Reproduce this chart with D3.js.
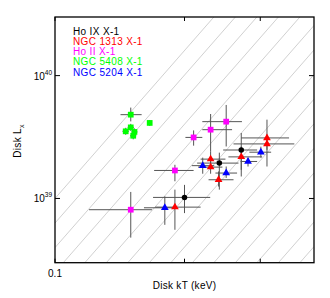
<!DOCTYPE html>
<html>
<head>
<meta charset="utf-8">
<script src="https://cdn.jsdelivr.net/npm/d3@7"></script>
<style>
body { margin: 0; background: #fff; }
svg text { font-family: "Liberation Sans", Arial, sans-serif; }
</style>
</head>
<body>
<div id="plot"></div>
<script>
var W = 330, H = 298;
var left = 55, right = 314, top_ = 17, bottom = 262.7;

// kT in keV, L in units of 1e39 erg/s ; [lo, hi] ranges for error bars
var names = ['Ho IX X-1', 'NGC 1313 X-1', 'Ho II X-1', 'NGC 5408 X-1', 'NGC 5204 X-1'];
var colors = ['#000000', '#ff0000', '#ff00ff', '#00ff00', '#0000ff'];
var shapes = ['circle', 'triangle', 'square', 'square', 'triangle'];

var ho9_kT   = [0.200, 0.241, 0.271];
var ho9_kTlo = [0.169, 0.214, 0.246];
var ho9_kThi = [0.2295, 0.267, 0.295];
var ho9_L    = [1.02, 1.94, 2.48];
var ho9_Llo  = [0.76, 1.18, 1.71];
var ho9_Lhi  = [1.29, 2.36, 3.41];

var n1313_kT   = [0.190, 0.230, 0.230, 0.240, 0.271, 0.311, 0.311];
var n1313_kTlo = [0.171, 0.218, 0.215, 0.2275, 0.253, 0.271, 0.260];
var n1313_kThi = [0.218, 0.249, 0.245, 0.260, 0.303, 0.350, 0.360];
var n1313_L    = [0.85, 2.09, 1.80, 1.42, 2.18, 3.11, 2.78];
var n1313_Llo  = [0.556, 1.85, 1.59, 1.25, 1.51, 2.49, 1.82];
var n1313_Lhi  = [1.18, 2.40, 2.03, 1.66, 2.65, 4.38, 3.30];

var ho2_kT   = [0.150, 0.190, 0.210, 0.230, 0.250];
var ho2_kTlo = [0.120, 0.170, 0.201, 0.220, 0.220];
var ho2_kThi = [0.168, 0.210, 0.220, 0.258, 0.272];
var ho2_L    = [0.81, 1.69, 3.14, 3.63, 4.22];
var ho2_Llo  = [0.48, 1.38, 2.69, 2.40, 2.65];
var ho2_Lhi  = [1.13, 1.88, 3.58, 4.87, 5.77];

var n5408_kT   = [0.150, 0.166, 0.150, 0.146, 0.153, 0.152];
var n5408_kTlo = [0.142, 0.1645, 0.1475, 0.1435, 0.1505, 0.1495];
var n5408_kThi = [0.159, 0.1675, 0.1525, 0.1485, 0.1555, 0.1545];
var n5408_L    = [4.81, 4.12, 3.79, 3.52, 3.48, 3.24];
var n5408_Llo  = [4.24, 3.90, 3.55, 3.30, 3.25, 3.03];
var n5408_Lhi  = [5.49, 4.35, 4.05, 3.76, 3.72, 3.46];

var n5204_kT   = [0.180, 0.2205, 0.250, 0.281, 0.301];
var n5204_kTlo = [0.161, 0.208, 0.236, 0.270, 0.283];
var n5204_kThi = [0.191, 0.2345, 0.265, 0.295, 0.318];
var n5204_L    = [0.84, 1.85, 1.61, 2.00, 2.38];
var n5204_Llo  = [0.61, 1.59, 1.47, 1.82, 2.15];
var n5204_Lhi  = [1.04, 2.15, 1.82, 2.14, 2.64];

// log10 of L/T^4 for the constant-ratio guide lines (L in erg/s, T in keV)
var guideC = d3.range(40.2, 43.01, 0.2);

var xTicks = [0.1, 0.2, 0.3];
var yTicks = [1, 10];

function rows(kT, kTlo, kThi, L, Llo, Lhi){
	var r = [];
	for (var i = 0; i < kT.length; i++){
		r.push({t: kT[i], tlo: kTlo[i], thi: kThi[i], l: L[i], llo: Llo[i], lhi: Lhi[i]});
	}
	return r;
}
var series = [
	rows(ho9_kT, ho9_kTlo, ho9_kThi, ho9_L, ho9_Llo, ho9_Lhi),
	rows(n1313_kT, n1313_kTlo, n1313_kThi, n1313_L, n1313_Llo, n1313_Lhi),
	rows(ho2_kT, ho2_kTlo, ho2_kThi, ho2_L, ho2_Llo, ho2_Lhi),
	rows(n5408_kT, n5408_kTlo, n5408_kThi, n5408_L, n5408_Llo, n5408_Lhi),
	rows(n5204_kT, n5204_kTlo, n5204_kThi, n5204_L, n5204_Llo, n5204_Lhi)
];

var x = d3.scaleLog().domain([0.1, 0.4]).range([left, right]);
var y = d3.scaleLog().domain([0.3, 30]).range([bottom, top_]);

var svg = d3.select('#plot').append('svg').attr('width', W).attr('height', H);

svg.append('clipPath').attr('id', 'clip').append('rect')
	.attr('x', left).attr('y', top_).attr('width', right - left).attr('height', bottom - top_);

// guide lines L = 10^C * T^4
var g = svg.append('g').attr('clip-path', 'url(#clip)');
guideC.forEach(function(c){
	var t0 = 0.1, t1 = 0.4;
	g.append('line')
		.attr('x1', x(t0)).attr('y1', y(Math.pow(10, c - 39) * Math.pow(t0, 4)))
		.attr('x2', x(t1)).attr('y2', y(Math.pow(10, c - 39) * Math.pow(t1, 4)))
		.attr('stroke', '#c4c4c4').attr('stroke-width', 0.8);
});

// error bars
series.forEach(function(s){
	var e = svg.append('g').attr('stroke', '#555').attr('stroke-width', 1);
	s.forEach(function(d){
		e.append('line').attr('x1', x(d.tlo)).attr('x2', x(d.thi)).attr('y1', y(d.l)).attr('y2', y(d.l));
		e.append('line').attr('x1', x(d.t)).attr('x2', x(d.t)).attr('y1', y(d.llo)).attr('y2', y(d.lhi));
	});
});

// markers
var sym = {circle: d3.symbolCircle, triangle: d3.symbolTriangle, square: d3.symbolSquare};
var size = {circle: 24, triangle: 26, square: 33};
series.forEach(function(s, k){
	svg.append('g').selectAll('path').data(s).join('path')
		.attr('transform', function(d){ return 'translate(' + x(d.t) + ',' + y(d.l) + ')'; })
		.attr('d', d3.symbol().type(sym[shapes[k]]).size(size[shapes[k]]))
		.attr('fill', colors[k]);
});

// frame
svg.append('rect').attr('x', left).attr('y', top_).attr('width', right - left).attr('height', bottom - top_)
	.attr('fill', 'none').attr('stroke', '#000').attr('stroke-width', 1.3);

// ticks, drawn inward on all four sides
var tk = svg.append('g').attr('stroke', '#000').attr('stroke-width', 1);
xTicks.forEach(function(v){
	tk.append('line').attr('x1', x(v)).attr('x2', x(v)).attr('y1', bottom).attr('y2', bottom - 4);
	tk.append('line').attr('x1', x(v)).attr('x2', x(v)).attr('y1', top_).attr('y2', top_ + 4);
});
yTicks.forEach(function(v){
	tk.append('line').attr('x1', left).attr('x2', left + 5).attr('y1', y(v)).attr('y2', y(v));
	tk.append('line').attr('x1', right).attr('x2', right - 5).attr('y1', y(v)).attr('y2', y(v));
});

// tick labels
svg.append('text').attr('x', x(0.1)).attr('y', 277).attr('text-anchor', 'middle')
	.attr('font-size', 10).text('0.1');
yTicks.forEach(function(v){
	var t = svg.append('text').attr('x', 52).attr('y', y(v) + 4).attr('text-anchor', 'end').attr('font-size', 10);
	t.append('tspan').text('10');
	t.append('tspan').attr('dy', -5).attr('font-size', 6.5).text(Math.round(Math.log10(v) + 39));
});

// axis titles
svg.append('text').attr('x', (left + right) / 2).attr('y', 289).attr('text-anchor', 'middle')
	.attr('font-size', 10).attr('letter-spacing', 0.3).text('Disk kT (keV)');
var yl = svg.append('text').attr('transform', 'translate(21,141) rotate(-90)')
	.attr('text-anchor', 'middle').attr('font-size', 10).attr('letter-spacing', 0.3);
yl.append('tspan').text('Disk L');
yl.append('tspan').attr('dy', 2.5).attr('font-size', 7).text('x');

// legend
names.forEach(function(n, i){
	svg.append('text').attr('x', 73).attr('y', 35 + i * 10 + (i == 4 ? 0.7 : 0))
		.attr('font-size', 10).attr('letter-spacing', 0.35).attr('fill', colors[i]).text(n);
});
</script>
</body>
</html>
